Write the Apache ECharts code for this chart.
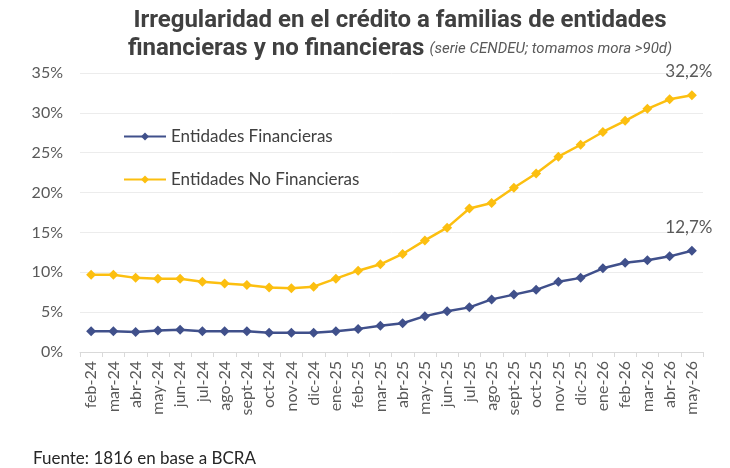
<!DOCTYPE html>
<html>
<head>
<meta charset="utf-8">
<script src="https://cdn.jsdelivr.net/npm/echarts@6/dist/echarts.min.js"></script>
<style>
  html, body { margin: 0; padding: 0; background: #fff; }
  #chart { width: 730px; height: 468px; }
</style>
</head>
<body>
<div id="chart"></div>
<script>
// categorías (meses)
var meses = ['feb-24', 'mar-24', 'abr-24', 'may-24', 'jun-24', 'jul-24', 'ago-24', 'sept-24', 'oct-24', 'nov-24',
  'dic-24', 'ene-25', 'feb-25', 'mar-25', 'abr-25', 'may-25', 'jun-25', 'jul-25', 'ago-25', 'sept-25',
  'oct-25', 'nov-25', 'dic-25', 'ene-26', 'feb-26', 'mar-26', 'abr-26', 'may-26'];

var financieras = [2.6, 2.6, 2.5, 2.7, 2.8, 2.6, 2.6, 2.6, 2.4, 2.4,
  2.4, 2.6, 2.9, 3.3, 3.6, 4.5, 5.1, 5.6, 6.6, 7.2,
  7.8, 8.8, 9.3, 10.5, 11.2, 11.5, 12.0, 12.7];

var noFinancieras = [9.7, 9.7, 9.3, 9.2, 9.2, 8.8, 8.6, 8.4, 8.1, 8.0,
  8.2, 9.2, 10.2, 11.0, 12.3, 14.0, 15.6, 18.0, 18.7, 20.6,
  22.4, 24.5, 26.0, 27.6, 29.0, 30.5, 31.7, 32.2];

var yTicks = [0, 5, 10, 15, 20, 25, 30, 35];

var azul = '#40508b';
var amarillo = '#fcbf10';
var fuente = 'Lato, "Open Sans", sans-serif';

function fmt(v) {
  return v.toFixed(1).replace('.', ',') + '%';
}

// solo el último punto lleva etiqueta
function conEtiqueta(arr) {
  return arr.map(function (v, i) {
    if (i === arr.length - 1) {
      return {
        value: v,
        label: {
          show: true,
          position: 'top',
          distance: 10,
          offset: [-3, 0],
          formatter: function (p) { return fmt(p.value); },
          color: '#595959',
          fontSize: 17,
          fontFamily: fuente
        }
      };
    }
    return v;
  });
}

var myChart = echarts.init(document.getElementById('chart'));
var option = {
  backgroundColor: '#fff',
  animation: false,
  title: {
    left: 395,
    top: 2,
    textAlign: 'center',
    text: '{a|Irregularidad en el crédito a familias de entidades}\n{a|financieras y no financieras} {b|(serie CENDEU; tomamos mora >90d)}',
    textStyle: {
      rich: {
        a: { fontFamily: 'Roboto, sans-serif', fontWeight: 'bold', fontSize: 24, color: '#404040', lineHeight: 28 },
        b: { fontFamily: 'Roboto, sans-serif', fontWeight: 'normal', fontStyle: 'italic', fontSize: 15, color: '#595959', lineHeight: 28 }
      }
    }
  },
  legend: {
    orient: 'vertical',
    left: 118,
    top: 123,
    itemGap: 26,
    itemWidth: 42,
    itemHeight: 10,
    textStyle: { fontFamily: fuente, fontSize: 17, color: '#404040' },
    data: ['Entidades Financieras', 'Entidades No Financieras']
  },
  grid: { left: 80, right: 27, top: 73, bottom: 116 },
  xAxis: {
    type: 'category',
    data: meses,
    axisLine: { lineStyle: { color: '#d9d9d9' } },
    axisTick: { show: true, length: 5, lineStyle: { color: '#d9d9d9' } },
    axisLabel: { rotate: 90, interval: 0, fontFamily: fuente, fontSize: 16, color: '#595959', margin: 9 }
  },
  yAxis: {
    type: 'value',
    min: yTicks[0],
    max: yTicks[yTicks.length - 1],
    interval: 5,
    axisLine: { show: false },
    axisTick: { show: false },
    splitLine: { lineStyle: { color: '#ececec' } },
    axisLabel: {
      formatter: function (v) { return v + '%'; },
      fontFamily: fuente, fontSize: 16, color: '#595959', margin: 17
    }
  },
  series: [
    {
      name: 'Entidades Financieras',
      type: 'line',
      data: conEtiqueta(financieras),
      symbol: 'diamond',
      symbolSize: 10,
      color: azul,
      lineStyle: { width: 2.5, color: azul },
      itemStyle: { color: azul }
    },
    {
      name: 'Entidades No Financieras',
      type: 'line',
      data: conEtiqueta(noFinancieras),
      symbol: 'diamond',
      symbolSize: 10,
      color: amarillo,
      lineStyle: { width: 2.5, color: amarillo },
      itemStyle: { color: amarillo }
    }
  ],
  graphic: [
    {
      type: 'text',
      left: 33,
      top: 450,
      style: { text: 'Fuente: 1816 en base a BCRA', font: '17px ' + fuente, fill: '#262626' }
    }
  ]
};
myChart.setOption(option);
</script>
</body>
</html>
